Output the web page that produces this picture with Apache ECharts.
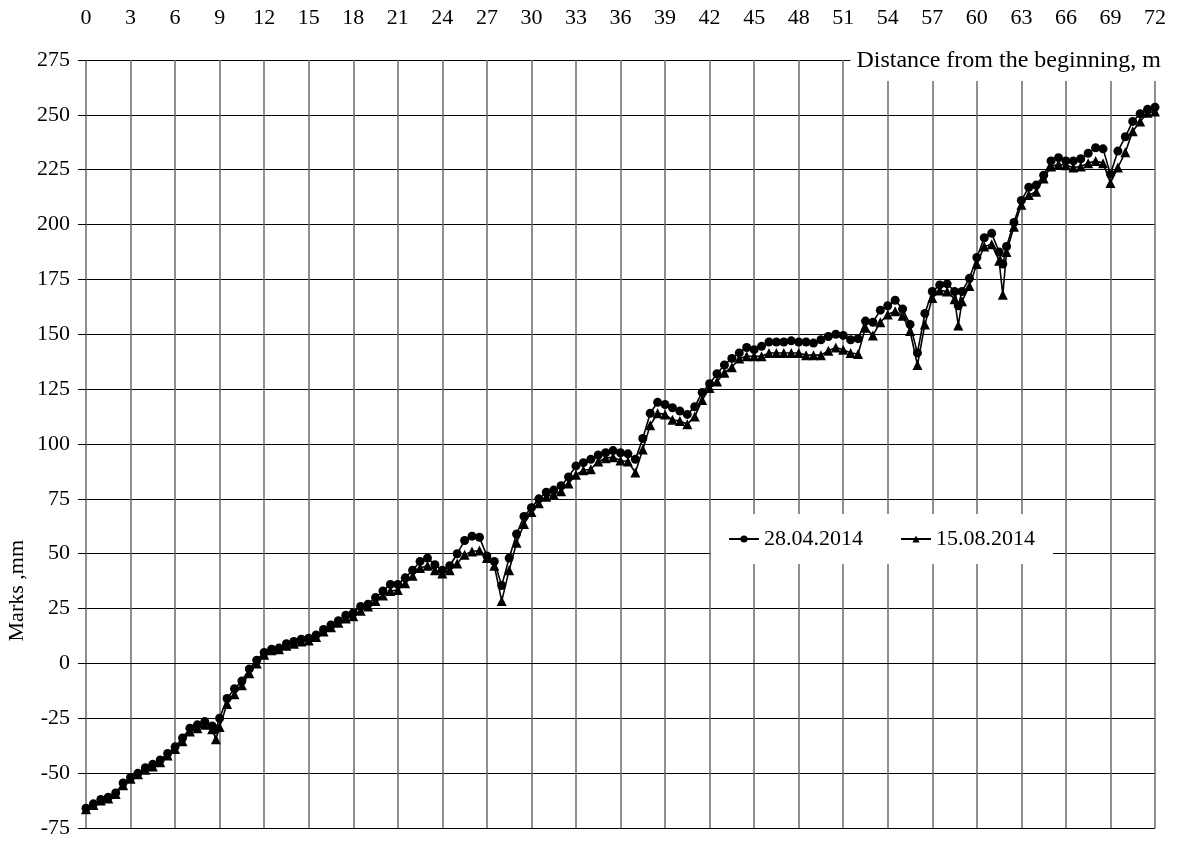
<!DOCTYPE html>
<html>
<head>
<meta charset="utf-8">
<script src="https://cdn.jsdelivr.net/npm/echarts@6/dist/echarts.min.js"></script>
<style>
html,body{margin:0;padding:0;background:#fff;}
#chart{width:1179px;height:841px;}
</style>
</head>
<body>
<div id="chart"></div>
<script>
const distances = [0,0.5,1,1.5,2,2.5,3,3.5,4,4.5,5,5.5,6,6.5,7,7.5,8,8.5,8.75,9,9.5,10,10.5,11,11.5,12,12.5,13,13.5,14,14.5,15,15.5,16,16.5,17,17.5,18,18.5,19,19.5,20,20.5,21,21.5,22,22.5,23,23.5,24,24.5,25,25.5,26,26.5,27,27.5,28,28.5,29,29.5,30,30.5,31,31.5,32,32.5,33,33.5,34,34.5,35,35.5,36,36.5,37,37.5,38,38.5,39,39.5,40,40.5,41,41.5,42,42.5,43,43.5,44,44.5,45,45.5,46,46.5,47,47.5,48,48.5,49,49.5,50,50.5,51,51.5,52,52.5,53,53.5,54,54.5,55,55.5,56,56.5,57,57.5,58,58.5,58.75,59,59.5,60,60.5,61,61.5,61.75,62,62.5,63,63.5,64,64.5,65,65.5,66,66.5,67,67.5,68,68.5,69,69.5,70,70.5,71,71.5,72];

const marks2804 = [-66,-64,-62,-61,-59,-54.5,-52,-50,-47.5,-46,-44,-41,-38,-34,-29.5,-28,-26.5,-28.5,-30,-25,-16,-11.5,-8,-2.5,1.5,5,6.5,7,9,10,11,11.5,13,15.5,17.5,19.5,22,23,26,27,30,33,36,36,39,42.5,46.5,48,45,42.5,44.5,50,56,58,57.5,49,46.5,35.5,48,59,67,71,75,78,79,81,85,90,91.5,93,95,96,97,96,95.5,93,102.5,114,119,118,116.5,115,113.5,117,123.5,127.5,132,136,139,141.5,144,143,144.5,146.5,146.5,146.5,147,146.5,146.5,146,147.5,149,150,149.5,147.5,148,156,155.5,161,163,165.5,161.5,154.5,141.5,159.5,169.5,172.5,173,169.5,163,169.5,175.5,185,194,196,187.5,182,190,201,211,217,218,222.5,229,230.5,229,229,230,232.5,235,234.5,223,233.5,240,247,250.5,252.5,253.5];

const marks1508 = [-66.5,-64.5,-62.5,-61.5,-59.5,-55.5,-52.5,-50.5,-48.5,-47,-45,-42,-39,-35.5,-31,-29.5,-28,-30,-34.5,-29,-18.5,-14,-10,-4.5,0,4,6,6.5,8,9,10,10.5,12,14.5,16.5,18.5,20.5,21.5,24,26,28.5,31,33,33.5,36.5,40,43.5,44.5,42.5,41,42.5,45.5,49.5,51,51.5,48,44.5,28.5,42.5,55,63.5,69,73,76,77,78.5,82,86,88,88.5,92,93.5,94,92.5,92,87,97.5,108.5,114,113.5,111,110.5,109,112.5,120,125.5,128.5,132.5,135,139,140,140,140,141.5,141.5,141.5,141.5,141.5,140.5,140.5,140.5,142.5,144,143,141.5,141,153,149.5,155.5,159,160.5,158.5,151.5,136,154.5,166.5,170,169.5,166,154,165,172,182,190,191,183.5,168,187.5,199,209,213.5,215,221,226.5,227.5,227,226,226.5,228,229,228,219,226,233,242.5,247,251,251.5];

const seriesNames = ['28.04.2014','15.08.2014'];
const xAxisTitle = 'Distance from the beginning, m';
const yAxisTitle = 'Marks ,mm';

const FONT = 'Liberation Serif';
const FS = 22;
const chart = echarts.init(document.getElementById('chart'), null, {renderer:'canvas'});

function pairs(vals){ return distances.map((d,i)=>[d, vals[i]]); }

chart.setOption({
  animation:false,
  backgroundColor:'#fff',
  grid:{left:86, top:60, right:24, bottom:13, containLabel:false},
  xAxis:{
    type:'value', position:'top', min:0, max:72, interval:3,
    axisLine:{show:true, lineStyle:{color:'#000', width:1}},
    axisTick:{show:false},
    axisLabel:{color:'#000', fontFamily:FONT, fontSize:FS, margin:31},
    splitLine:{show:true, lineStyle:{color:'#6a6a6a', width:1.5}}
  },
  yAxis:{
    type:'value', min:-75, max:275, interval:25,
    axisLine:{show:false},
    axisTick:{show:true, inside:false, length:8, lineStyle:{color:'#000', width:1}},
    axisLabel:{color:'#000', fontFamily:FONT, fontSize:FS, margin:16},
    splitLine:{show:true, lineStyle:{color:'#000', width:1}}
  },
  legend:{
    left:711, top:514,
    padding:[14,18,14,17],
    backgroundColor:'#fff',
    itemWidth:30, itemHeight:9, itemGap:37,
    textStyle:{color:'#000', fontFamily:FONT, fontSize:FS},
    data:seriesNames
  },
  series:[
    {
      name:seriesNames[0], type:'line', data:pairs(marks2804),
      symbol:'circle', symbolSize:9,
      lineStyle:{color:'#000', width:1.6},
      itemStyle:{color:'#000'}, z:3
    },
    {
      name:seriesNames[1], type:'line', data:pairs(marks1508),
      symbol:'triangle', symbolSize:10,
      lineStyle:{color:'#000', width:1.6},
      itemStyle:{color:'#000'}, z:4
    }
  ],
  graphic:[
    {
      type:'text', right:14, top:47, z:10,
      style:{text:xAxisTitle, fill:'#000', font:'24px "Liberation Serif"',
        backgroundColor:'#fff', padding:[2,4,8,6]}
    },
    {
      type:'text', left:6, top:540, rotation:Math.PI/2, z:10,
      style:{text:yAxisTitle, fill:'#000', font:FS + 'px "Liberation Serif"'}
    }
  ]
});
</script>
</body>
</html>
